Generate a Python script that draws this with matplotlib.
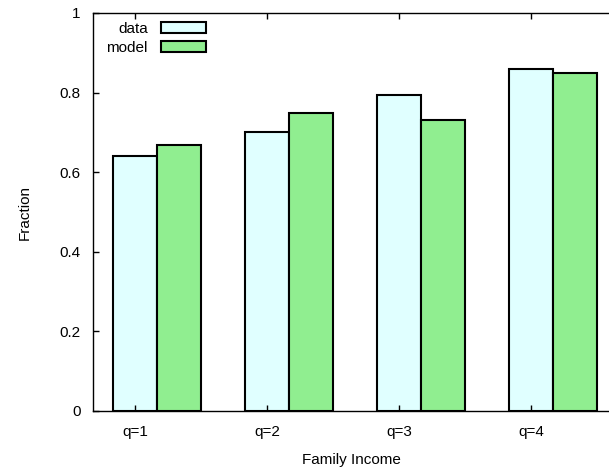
import numpy as np
import matplotlib.pyplot as plt
from matplotlib.patches import Patch

plt.rcParams["font.family"] = ["Liberation Sans", "DejaVu Sans"]
plt.rcParams["font.size"] = 11

groups = ["q=1", "q=2", "q=3", "q=4"]
data_vals = [0.641, 0.701, 0.794, 0.859]
model_vals = [0.668, 0.749, 0.731, 0.849]

fig = plt.figure(figsize=(6.09, 4.72), dpi=100)
ax = fig.add_axes([93 / 609, 1 - 411 / 472, 1 - 93 / 609 + 0.002, (411 - 13) / 472])

x = np.arange(len(groups))
w = 1 / 3
ax.bar(x, data_vals, width=w, color="#e0ffff", edgecolor="black", linewidth=1.5, label="data")
ax.bar(x + w, model_vals, width=w, color="#90ee90", edgecolor="black", linewidth=1.5, label="model")

ax.set_xlim(-0.318, 3.60)
ax.set_ylim(0, 1)
ax.set_xticks(x)
ax.set_xticklabels(groups)
ax.set_yticks([0, 0.2, 0.4, 0.6, 0.8, 1.0])
ax.set_yticklabels(["0", "0.2", "0.4", "0.6", "0.8", "1"])
ax.tick_params(axis="both", direction="in", length=4, width=1, pad=9)
ax.tick_params(axis="x", top=True, bottom=True, pad=10)
ax.spines["right"].set_visible(False)
for s in ["left", "top", "bottom"]:
    ax.spines[s].set_linewidth(1)

ax.set_xlabel("Family Income", labelpad=10)
ax.set_ylabel("Fraction", labelpad=20)

handles = [Patch(facecolor="#e0ffff", edgecolor="black", linewidth=1.5),
           Patch(facecolor="#90ee90", edgecolor="black", linewidth=1.5)]
ax.legend(handles, ["data", "model"], loc="upper left", bbox_to_anchor=(0.008, 1.0),
          frameon=False, markerfirst=False, handlelength=2.9, handleheight=0.7,
          labelspacing=0.32, handletextpad=0.9, borderaxespad=0.2)

fig.savefig("out.png", dpi=100)
